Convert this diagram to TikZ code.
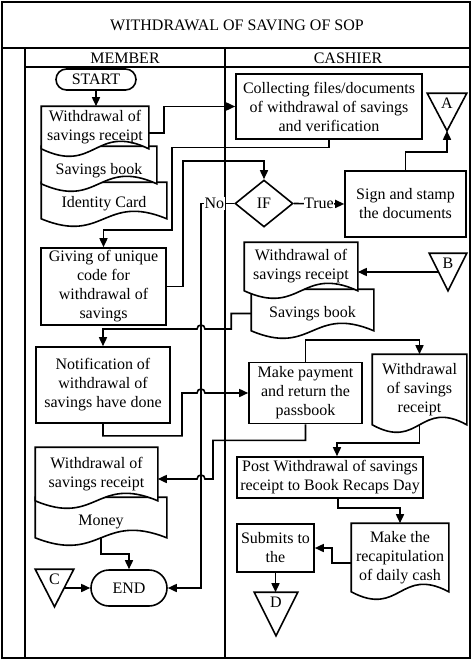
\documentclass[tikz,border=0pt]{standalone}
\usepackage{fontspec}
\setmainfont{Liberation Serif}
\usetikzlibrary{calc, shapes.geometric, shapes.misc, arrows.meta, backgrounds}

% outline of a document symbol (#1 lifts the top edge)
\newcommand{\docshape}[2][0]{%
  \draw[docline] ([yshift=#1pt]#2.north west) -- ([yshift=#1pt]#2.north east) -- (#2.south east)
    .. controls ($(#2.south)+(0,-26)$) and ($(#2.south)+(0,26)$) .. (#2.south west) -- cycle;}
% outline of an off-page connector
\newcommand{\trishape}[1]{%
  \draw (#1.north west) -- (#1.north east) -- (#1.south) -- cycle;}

\begin{document}
\begin{tikzpicture}[x=1pt, y=-1pt, >={Triangle[length=9pt,width=8pt]},
    every path/.style={line width=1.6pt},
    every node/.style={font=\fontsize{16}{19}\selectfont, inner sep=0pt, align=center},
    box/.style 2 args={draw, minimum width=#1pt, minimum height=#2pt},
    doc/.style 2 args={minimum width=#1pt, minimum height=#2pt},
    term/.style 2 args={draw, rounded rectangle, minimum width=#1pt, minimum height=#2pt},
    tri/.style 2 args={minimum width=#1pt, minimum height=#2pt, text height=11pt, text depth=19pt},
    docline/.style={draw, fill=white},
    lbl/.style={fill=white, inner xsep=0.5pt, inner ysep=1pt}]
    \useasboundingbox (0,0) rectangle (473,661);

    % frame and lanes
    \draw (2,2) rectangle (470,658);
    \draw (2,48) -- (470,48);
    \draw (25,48) -- (25,658);
    \draw (25,67) -- (470,67);
    \draw (225,48) -- (225,658);

    \node (title) at (237,25) {WITHDRAWAL OF SAVING OF SOP};
    \node (member) at (125,58) {MEMBER};
    \node (cashier) at (348,58) {CASHIER};

    % member lane
    \node[term={80}{21}] (start) at (96,79.5) {START};
    \node[doc={106}{41}] (d1) at (95,127.5) {Withdrawal of\\savings receipt};
    \node[doc={114}{24}] (d2) at (99,171) {Savings book};
    \node[doc={124}{28}] (d3) at (104,204) {Identity Card};
    \node[box={125}{77}] (give) at (103.5,286.5) {Giving of unique\\code for\\withdrawal of\\savings};
    \node[box={134}{76}] (notif) at (103,385) {Notification of\\withdrawal of\\savings have done};
    \node[doc={121}{52}] (d4) at (96.5,474) {Withdrawal of\\savings receipt};
    \node[doc={130}{30}] (d5) at (101,522) {Money};
    \node[tri={37}{36}] (tC) at (54.5,588) {C};
    \node[term={76}{36}] (end) at (129,588) {END};

    % cashier lane
    \node[box={186}{65}] (collect) at (329,106.5) {Collecting files/documents\\of withdrawal of savings\\and verification};
    \node[tri={38}{36}] (tA) at (447,112) {A};
    \node[draw, diamond, minimum width=58pt, minimum height=47pt] (if) at (264,203.5) {IF};
    \node[box={121}{66}] (sign) at (405.5,204) {Sign and stamp\\the documents};
    \node[doc={112}{47}] (d6) at (301,266.5) {Withdrawal of\\savings receipt};
    \node[doc={121}{33}] (d7) at (312.5,313.5) {Savings book};
    \node[tri={36}{36}] (tB) at (448,272) {B};
    \node[box={113}{61}] (pay) at (305.5,393) {Make payment\\and return the\\passbook};
    \node[doc={93}{69}] (d8) at (419.5,389.5) {Withdrawal\\of savings\\receipt};
    \node[box={186}{41}] (post) at (330,477.5) {Post Withdrawal of savings\\receipt to Book Recaps Day};
    \node[box={77}{48}] (submit) at (275.5,548) {Submits to\\the};
    \node[doc={96}{67}] (d9) at (400,557.5) {Make the\\recapitulation\\of daily cash};
    \node[tri={42}{42}, text depth=25pt] (tD) at (276,614) {D};

    \begin{pgfonlayer}{background}
        \docshape[7]{d3} \docshape[12]{d2} \docshape{d1}
        \docshape[9]{d5} \docshape{d4}
        \docshape[7]{d7} \docshape{d6}
        \docshape{d8} \docshape{d9}
    \end{pgfonlayer}
    \trishape{tA} \trishape{tB} \trishape{tC} \trishape{tD}

    % flow
    \draw[->] (start.south) -- (start.south |- d1.north);
    \draw[->] ([yshift=-5.5pt]d1.east) -- ++(15,0) |- (collect.west);
    \draw[->] (collect.south) -- ++(0,7.5) -| (172,230) -| (give.north);
    \draw[->] (give.east) -- ++(16,0) |- ([yshift=18pt]if.north) -- (if.north);
    \draw[->] (if.east) -- node[lbl]{True} (sign.west);
    \draw[->] (if.west) -- node[lbl, pos=0.6]{No} (201,203.5) |- (end.east);
    \draw[->] (sign.north) -- ++(0,-18) -| (tA.south);
    \draw[->] ($(tB.north west)!0.5!(tB.south)$) -- ([yshift=-5.5pt]d6.east);
    \draw[->] (d7.west) -- ++(-20,0) |- (205,329) .. controls +(0,-5.3) and +(0,-5.3) .. ++(-8,0) -| (notif.north);
    \draw[->] (notif.south) -- ++(0,12) -| (182,393) -- (197,393) .. controls +(0,-5.3) and +(0,-5.3) .. ++(8,0) -- (pay.west);
    \draw[->] (pay.north) -- ++(0,-22) -| (d8.north);
    \draw[->] (pay.south) -- ++(0,16) -| (213,479) -- (205,479) .. controls +(0,-5.3) and +(0,-5.3) .. ++(-8,0) -- ([yshift=-5pt]d4.east);
    \draw[->] (d8.south) -- ++(0,18) -| ([xshift=7pt]post.north);
    \draw[->] ([xshift=8pt]post.south) -- ++(0,9) -| (d9.north);
    \draw[->] ([yshift=-5.5pt]d9.west) -- ++(-19,0) |- (submit.east);
    \draw[->] (submit.south) -- (submit.south |- tD.north);
    \draw[->] (d5.south) -- ++(0,16) -| (end.north);
    \draw[->] ($(tC.north east)!0.5!(tC.south)$) -- (end.west);
\end{tikzpicture}
\end{document}
